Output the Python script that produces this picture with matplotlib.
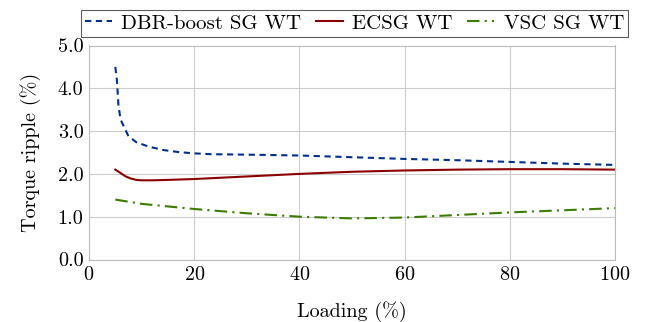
import numpy as np
import matplotlib; matplotlib.use('Agg')
import matplotlib.pyplot as plt

plt.rcParams['font.family'] = ['cmr10', 'DejaVu Serif']
plt.rcParams['mathtext.fontset'] = 'cm'
plt.rcParams['axes.formatter.use_mathtext'] = True

# DBR-boost SG WT
dbr_x = [5, 5.3, 5.6, 6, 7.5, 9, 11.3, 14, 17, 20, 23.3, 30, 40, 50, 60, 70, 80, 90, 100]
dbr_y = [4.5, 4.2, 3.6, 3.27, 2.88, 2.74, 2.64, 2.56, 2.51, 2.48, 2.46, 2.45, 2.43, 2.39, 2.35, 2.32, 2.28, 2.24, 2.21]
# ECSG WT
ecsg_x = [5, 6, 7, 8, 9, 10, 12, 15, 20, 30, 40, 50, 60, 70, 80, 90, 100]
ecsg_y = [2.10, 2.02, 1.94, 1.89, 1.86, 1.85, 1.85, 1.86, 1.88, 1.94, 2.00, 2.05, 2.08, 2.10, 2.11, 2.11, 2.10]
# VSC SG WT
vsc_x = [5, 10, 20, 30, 40, 50, 60, 70, 80, 90, 100]
vsc_y = [1.40, 1.30, 1.18, 1.08, 1.00, 0.96, 0.98, 1.04, 1.10, 1.15, 1.20]

FS = 14.5
fig = plt.figure(figsize=(6.45, 3.22), dpi=100)
ax = fig.add_axes([89/645, 1-259.5/322, (615-89)/645, (259.5-45.5)/322])

ax.plot(dbr_x, dbr_y, color='#00308f', lw=1.5, ls=(0, (3, 2.2)), label='DBR-boost SG WT')
ax.plot(ecsg_x, ecsg_y, color='#8b0000', lw=1.5, label='ECSG WT')
ax.plot(vsc_x, vsc_y, color='#3a7d00', lw=1.5, ls=(0, (6, 2.5, 1, 2.5)), label='VSC SG WT')

ax.set_xlim(0, 100)
ax.set_ylim(0, 5)
ax.set_xticks(range(0, 101, 20))
ax.set_yticks(np.arange(0, 5.1, 1))
ax.set_yticklabels([f"{v:.1f}" for v in np.arange(0, 5.1, 1)])
ax.grid(color='#cccccc', lw=0.8)
ax.tick_params(length=0, labelsize=FS)
ax.tick_params(axis='x', pad=5)
ax.tick_params(axis='y', pad=4)
for s in ax.spines.values():
    s.set_color('#bbbbbb')
ax.set_xlabel('Loading (%)', fontsize=FS, labelpad=12)
ax.set_ylabel('Torque ripple (%)', fontsize=FS, labelpad=12)

leg = fig.legend(loc='center', bbox_to_anchor=(354.5/645, 1-23.5/322), ncol=3, fontsize=15,
                 frameon=True, fancybox=False, edgecolor='#333333', handlelength=1.3,
                 handletextpad=0.45, columnspacing=0.7, borderpad=0.2, borderaxespad=0)
leg.get_frame().set_linewidth(0.8)

fig.savefig('out.png', dpi=100)
